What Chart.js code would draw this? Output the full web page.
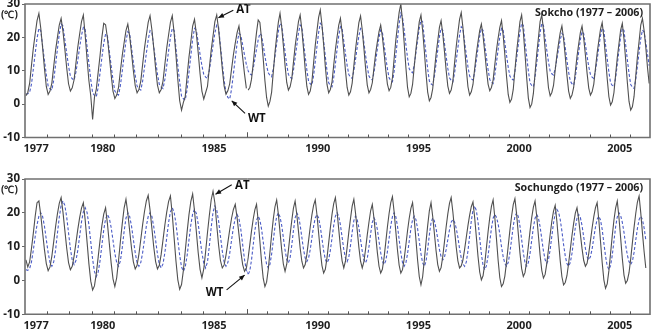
<!DOCTYPE html>
<html><head><meta charset="utf-8">
<script src="https://cdn.jsdelivr.net/npm/chart.js@4.4.0/dist/chart.umd.min.js"></script>
<style>
html,body{margin:0;padding:0;background:#fff;}
#wrap{position:relative;width:653px;height:336px;overflow:hidden;background:#fff;}
canvas{position:absolute;left:0;}
</style></head><body>
<div id="wrap">
<canvas id="topA" width="653" height="160" style="top:0px"></canvas>
<canvas id="topB" width="653" height="160" style="top:0px"></canvas>
<canvas id="botA" width="653" height="176" style="top:160px"></canvas>
<canvas id="botB" width="653" height="176" style="top:160px"></canvas>
</div>
<script>
// ---------- DATA (monthly, starting January 1977) ----------
const startYear = 1977;
const breakYear = 1987;
const endYear = 2007;
const yearLabels = [1977, 1980, 1985, 1990, 1995, 2000, 2005];
const yTicks = [-10, 0, 10, 20, 30];
const titles = ['Sokcho (1977 \u2013 2006)', 'Sochungdo (1977 \u2013 2006)'];
const seriesNames = ['AT', 'WT'];

// Sokcho air temperature (AT)
const sokchoAT = [
 2.5,3.5,6.2,11.6,16.8,21.0,25.0,27.2,22.8,17.0,10.7,5.3,
 2.9,3.9,6.3,11.3,16.1,20.0,23.7,25.7,21.8,16.5,10.9,6.1,
 3.9,4.9,7.3,12.3,17.1,21.0,24.7,26.7,20.5,13.5,7.0,2.5,
 -4.6,2.0,4.5,9.5,14.5,20.0,24.2,23.8,19.8,14.5,8.8,3.9,
 1.7,2.7,5.0,10.0,14.6,18.4,22.0,24.0,20.3,15.3,10.0,5.5,
 3.4,4.4,6.9,11.9,16.8,20.7,24.5,26.5,22.3,16.8,10.8,5.7,
 3.4,4.4,6.9,11.9,16.8,20.7,24.5,26.5,21.4,14.6,7.3,1.0,
 -1.8,0.5,2.3,8.3,14.0,18.6,23.4,25.4,21.1,15.4,9.1,3.9,
 1.5,3.4,5.3,10.8,16.1,20.4,24.7,26.7,22.4,16.7,10.6,5.4,
 3.0,4.0,6.1,10.5,14.8,18.3,21.4,23.4,19.0,14.0,9.0,4.7,
 4.2,5.0,7.4,12.0,17.0,21.5,25.2,24.5,19.5,13.5,7.0,2.0,
 -0.6,0.8,3.6,9.7,15.5,20.3,24.5,27.2,23.1,17.5,11.6,6.5,
 4.2,5.2,7.6,12.5,17.3,21.1,24.7,26.7,22.4,16.7,10.5,5.3,
 2.9,3.9,6.7,12.3,17.6,21.9,26.0,28.2,23.7,17.8,11.3,5.9,
 3.4,4.4,6.7,11.7,16.3,20.1,23.7,25.7,21.6,16.0,10.1,5.0,
 2.7,3.7,6.3,11.5,16.4,20.5,24.4,26.4,22.3,16.7,10.8,5.7,
 3.4,4.4,6.4,10.9,15.2,18.6,21.7,23.7,20.2,15.4,10.3,6.0,
 4.0,5.0,7.9,13.6,19.1,23.5,27.5,30.0,25.0,18.3,11.1,5.0,
 2.2,3.2,5.9,11.3,16.4,20.6,24.7,26.7,22.1,15.9,9.2,3.6,
 1.0,2.0,4.6,9.9,14.9,19.0,23.0,25.0,21.1,15.8,10.2,5.4,
 3.2,4.2,6.8,12.2,17.2,21.4,25.4,27.4,23.0,17.0,10.6,5.2,
 2.7,3.7,5.9,10.6,15.1,18.7,22.0,24.0,20.4,15.6,10.4,6.0,
 4.0,5.0,7.2,11.8,16.2,19.8,23.0,25.0,20.6,14.7,8.3,2.9,
 0.5,1.5,4.4,10.2,15.7,20.2,24.7,26.7,21.7,15.1,7.9,1.8,
 -1.0,0.0,3.2,9.2,15.1,19.8,24.7,26.7,22.3,16.5,10.2,4.9,
 2.5,3.5,5.6,10.2,14.6,18.2,21.4,23.4,19.5,14.3,8.6,3.9,
 1.7,2.7,5.0,9.7,14.3,18.0,21.4,23.4,19.7,14.7,9.3,4.8,
 2.7,3.7,6.0,10.7,15.3,19.0,22.4,24.4,20.0,14.0,7.6,2.2,
 -0.3,0.7,3.4,8.8,13.9,18.1,22.2,24.2,19.5,13.3,6.5,0.8,
 -1.8,-0.8,2.3,8.4,14.2,18.8,23.7,25.7,22.0,17.0,11.0,6.2
];

// Sokcho water temperature (WT)
const sokchoWT = [
 3.0,3.1,3.6,6.0,10.5,15.2,19.7,22.7,22.0,17.5,13.1,8.8,
 5.4,4.6,4.2,7.2,11.7,16.5,21.0,24.0,23.4,19.3,15.3,11.4,
 8.4,7.6,7.2,9.6,13.2,17.0,20.6,23.0,22.4,17.2,12.2,7.4,
 3.4,2.6,2.2,5.0,9.3,13.9,18.2,21.0,20.4,15.9,11.5,7.3,
 3.9,3.1,2.7,5.6,9.9,14.5,18.9,21.7,21.1,16.8,12.6,8.6,
 5.4,4.6,4.2,6.9,11.0,15.2,19.3,22.0,21.4,17.2,13.0,9.0,
 5.9,5.1,4.7,7.4,11.5,15.9,20.0,22.7,22.1,16.7,11.5,6.6,
 2.4,1.6,1.2,4.4,9.4,14.5,19.5,22.7,22.1,18.5,14.9,11.5,
 8.9,8.1,7.7,10.1,13.8,17.6,21.3,23.7,23.1,17.5,12.2,7.1,
 3.5,2.0,1.5,4.5,9.0,13.7,18.2,21.2,20.6,17.7,14.7,11.8,
 9.9,9.1,8.7,10.6,13.5,16.5,19.3,21.2,20.6,17.6,14.4,11.5,
 9.4,8.6,8.2,10.6,14.3,18.1,21.8,24.2,23.6,19.6,15.6,11.8,
 8.9,8.1,7.7,10.1,13.8,17.6,21.3,23.7,23.1,18.7,14.3,10.2,
 6.9,6.1,5.7,8.5,12.7,17.2,21.4,24.2,23.6,18.9,14.3,10.0,
 6.4,5.6,5.2,7.9,12.0,16.4,20.5,23.2,22.6,18.9,15.1,11.6,
 8.9,8.1,7.7,10.0,13.4,17.0,20.5,22.7,22.1,18.4,14.6,11.1,
 8.4,7.6,7.2,9.5,12.9,16.5,20.0,22.2,21.6,17.9,14.1,10.6,
 7.9,7.1,6.7,9.8,14.5,19.4,24.1,27.2,26.0,22.2,17.9,13.9,
 10.6,9.8,9.4,11.8,15.4,19.2,22.8,25.2,24.6,19.7,15.1,10.6,
 6.9,6.1,5.7,8.3,12.2,16.2,20.2,22.7,22.1,18.2,14.4,10.7,
 7.9,7.1,6.7,9.2,13.0,16.9,20.7,23.2,22.6,18.7,14.9,11.2,
 8.4,7.6,7.2,9.5,13.1,16.8,20.4,22.7,22.1,18.1,14.1,10.3,
 7.4,6.6,6.2,8.7,12.5,16.4,20.2,22.7,22.1,18.4,14.6,11.1,
 8.4,7.6,7.2,9.8,13.7,17.7,21.7,24.2,23.6,18.9,14.3,10.0,
 6.4,5.6,5.2,8.1,12.4,17.0,21.4,24.2,23.6,19.9,16.1,12.6,
 9.9,9.1,8.7,10.6,13.5,16.5,19.3,21.2,20.6,16.9,13.1,9.6,
 6.9,6.1,5.7,8.1,11.8,15.6,19.3,21.7,21.1,17.8,14.4,11.2,
 8.9,8.1,7.7,10.0,13.4,17.0,20.5,22.7,22.1,17.8,13.6,9.6,
 6.4,5.6,5.2,7.8,11.9,16.1,20.1,22.7,22.1,17.7,13.3,9.2,
 5.9,5.1,4.7,7.3,11.4,15.6,19.6,22.2,21.6,18.5,15.0,11.5
];

// Sochungdo air temperature (AT), monthly from Jan 1977 (series ends Oct 2006)
const sochungdoAT = [
 6.1,4.0,5.5,9.5,14.0,19.0,23.0,23.5,
 19.4,14.2,9.1,5.0,2.9,4.0,7.2,11.5,15.9,19.7,22.8,24.5,
 20.2,14.9,9.6,5.3,3.2,4.2,7.2,11.1,15.1,18.6,21.4,23.0,
 17.8,11.4,4.9,-0.2,-2.8,-1.6,2.1,6.9,11.8,16.2,19.6,21.5,
 16.8,11.0,5.2,0.5,-1.8,0.8,5.9,11.6,16.8,21.4,24.0,
 19.9,14.7,9.6,5.5,3.4,4.5,7.8,12.1,16.5,20.4,23.5,25.2,
 20.8,15.4,9.9,5.6,3.4,4.5,7.7,12.0,16.4,20.2,23.3,25.0,
 19.5,12.6,5.7,0.2,-2.6,-1.2,3.0,8.7,14.3,19.4,23.3,25.6,
 20.6,14.4,8.2,3.3,0.8,3.4,8.5,14.1,19.2,23.8,26.4,
 22.9,16.4,10.5,5.9,3.7,4.6,7.5,11.2,15.0,18.4,21.0,22.5,
 18.5,13.6,8.6,4.7,2.7,3.7,6.7,10.6,14.6,18.1,20.9,22.5,
 17.6,11.6,5.5,0.6,-1.8,-0.5,3.3,8.4,13.6,18.2,21.8,23.8,
 19.6,14.3,9.1,4.8,2.7,4.8,8.9,13.5,17.7,21.4,23.5,
 19.5,14.6,9.6,5.7,3.7,4.7,7.7,11.7,15.8,19.4,22.2,23.8,
 19.5,14.1,8.7,4.4,2.2,3.3,6.7,11.1,15.6,19.6,22.7,24.5,
 20.3,15.1,9.9,5.8,3.7,5.7,9.8,14.3,18.3,22.0,24.0,
 19.9,14.9,9.8,5.7,3.7,5.6,9.3,13.5,17.2,20.6,22.5,
 18.4,13.4,8.3,4.2,2.2,3.3,6.7,11.2,15.8,19.8,23.0,24.8,
 20.3,14.6,9.0,4.5,2.2,3.2,6.4,10.5,14.7,18.4,21.3,23.0,
 18.1,12.1,6.0,1.1,-1.3,1.1,6.0,11.3,16.2,20.6,23.0,
 18.9,13.9,8.8,4.7,2.7,3.8,7.1,11.4,15.8,19.7,22.8,24.5,
 20.3,15.1,9.9,5.8,3.7,4.3,6.0,9.2,12.7,16.2,19.3,21.8,23.2,
 18.6,12.9,7.1,2.5,0.2,1.4,4.9,9.6,14.4,18.6,21.9,23.8,
 18.7,12.3,5.9,0.8,-1.8,-1.0,1.3,5.5,10.2,14.8,19.0,22.4,24.2,
 19.6,13.9,8.1,3.5,1.2,2.3,5.7,10.1,14.6,18.6,21.7,23.5,
 18.9,13.2,7.5,3.0,0.7,1.8,5.0,9.3,13.6,17.5,20.5,22.2,
 17.5,11.6,5.8,1.1,-1.3,-0.6,1.4,5.1,9.2,13.3,16.9,19.9,21.5,
 18.0,13.7,9.4,5.9,4.2,5.1,8.0,11.7,15.5,18.9,21.5,23.0,
 17.9,11.6,5.3,0.2,-2.3,-1.0,2.9,8.0,13.2,17.8,21.4,23.5,
 18.6,12.6,6.5,1.6,-0.8,0.0,2.3,6.4,11.1,15.7,19.8,23.2,25.0,
 20.0,14.0,8.5,3.7
];

// Sochungdo water temperature (WT)
const sochungdoWT = [
 3.2,3.0,3.5,5.5,9.0,13.0,16.5,19.0,20.0,
 18.9,16.1,12.1,8.2,5.3,4.2,5.5,9.0,13.9,18.7,22.2,23.5,
 22.2,18.8,14.1,9.4,6.0,4.7,5.9,8.9,13.1,17.3,20.3,21.5,
 20.1,16.4,11.4,6.3,2.6,1.2,2.5,5.8,10.4,14.9,18.2,19.5,
 18.4,15.7,11.9,8.0,5.3,4.2,5.8,9.7,14.5,18.4,20.0,
 18.9,16.1,12.1,8.2,5.3,4.2,5.3,8.2,12.1,16.1,18.9,20.0,
 18.9,15.9,11.9,7.8,4.8,3.7,4.9,8.2,12.6,17.1,20.3,21.5,
 20.2,16.8,12.1,7.4,4.0,2.7,4.0,7.3,11.9,16.4,19.7,21.0,
 19.8,16.7,12.4,8.2,5.1,3.7,5.5,10.1,15.6,20.2,22.0,
 20.8,17.6,13.1,8.7,5.4,4.2,5.3,8.0,11.9,15.7,18.4,19.5,
 18.3,15.1,10.6,6.2,2.9,1.7,2.9,6.0,10.4,14.7,17.8,19.0,
 17.9,15.2,11.4,7.5,4.8,3.7,4.8,7.8,11.9,15.9,18.9,20.0,
 18.8,16.3,12.6,9.0,6.2,5.2,6.7,10.4,14.8,18.5,20.0,
 19.0,16.4,12.8,9.2,6.6,5.6,6.6,9.1,12.6,16.0,18.5,19.5,
 18.5,15.9,12.4,8.8,6.2,5.2,6.2,8.9,12.6,16.3,19.0,20.0,
 19.0,16.4,12.8,9.2,6.6,5.6,6.9,10.3,14.3,17.7,19.0,
 18.0,15.6,12.1,8.7,6.2,5.2,6.5,9.9,13.8,17.2,18.5,
 17.5,15.1,11.6,8.2,5.7,4.7,5.8,8.5,12.4,16.2,18.9,20.0,
 18.9,16.1,12.1,8.2,5.3,4.2,5.2,7.9,11.6,15.3,18.0,19.0,
 18.0,15.3,11.6,7.9,5.2,4.2,5.6,9.2,13.5,17.1,18.5,
 17.6,15.4,12.3,9.2,7.0,6.1,6.9,9.1,12.1,15.0,17.2,18.0,
 17.3,15.5,12.8,9.4,6.7,4.9,4.2,5.4,8.7,13.1,17.6,20.8,22.0,
 20.7,17.3,12.6,7.9,4.5,3.2,4.3,7.3,11.4,15.4,18.4,19.5,
 18.7,16.7,13.7,10.0,7.0,5.0,4.2,5.3,8.2,12.1,16.1,18.9,20.0,
 18.9,16.1,12.1,8.2,5.3,4.2,5.3,8.0,11.9,15.7,18.4,19.5,
 18.5,15.9,12.3,8.7,6.1,5.1,6.2,9.1,13.1,17.0,19.9,21.0,
 20.2,18.0,14.6,10.6,7.2,5.0,4.2,5.3,8.0,11.9,15.7,18.4,19.5,
 18.6,16.2,12.8,9.5,7.0,6.1,7.0,9.3,12.6,15.8,18.1,19.0,
 17.9,15.1,11.1,7.2,4.3,3.2,4.4,7.4,11.6,15.8,18.8,20.0,
 19.2,17.2,14.2,10.5,7.5,5.5,4.7,5.7,8.3,11.9,15.4,18.0,19.0,
 18.0,15.5,12.0
];

// ---------- STYLE / LAYOUT ----------
const W = 653, LEFT = 25, SPLIT = 247.3, RIGHT = 650, XH = 20;
const FONT = "'Open Sans', 'Liberation Sans', sans-serif";
const TXT = '#1e1e1e', FRAME = '#707070', AT_C = '#505050', WT_C = '#4a5bc6';

const toPts = vals => vals.map((v, i) => ({x: startYear + (i + 0.5) / 12, y: v}));

function arrow(ctx, x1, y1, x2, y2) {
  ctx.beginPath(); ctx.moveTo(x1, y1); ctx.lineTo(x2, y2); ctx.stroke();
  const a = Math.atan2(y2 - y1, x2 - x1), L = 6, s = 0.42;
  ctx.beginPath();
  ctx.moveTo(x2, y2);
  ctx.lineTo(x2 - L * Math.cos(a - s), y2 - L * Math.sin(a - s));
  ctx.lineTo(x2 - L * Math.cos(a + s), y2 - L * Math.sin(a + s));
  ctx.closePath(); ctx.fill();
}

const deco = {
  id: 'deco',
  afterDraw(chart) {
    const o = chart.options.plugins.deco;
    const {ctx, chartArea: a, scales: {x, y}} = chart;
    ctx.save();
    ctx.strokeStyle = FRAME; ctx.lineWidth = 1.6;
    ctx.beginPath();
    if (o.side === 'left') {
      ctx.moveTo(a.right, a.top); ctx.lineTo(a.left, a.top);
      ctx.lineTo(a.left, a.bottom); ctx.lineTo(a.right, a.bottom);
    } else {
      ctx.moveTo(a.left, a.top); ctx.lineTo(a.right, a.top);
      ctx.lineTo(a.right, a.bottom); ctx.lineTo(a.left, a.bottom);
    }
    ctx.stroke();
    ctx.lineWidth = 1; ctx.strokeStyle = '#555';
    ctx.beginPath();
    for (let yr = Math.ceil(x.min); yr <= x.max; yr++) {
      if (yr === startYear || yr === endYear) continue;
      const px = Math.round(x.getPixelForValue(yr)) + 0.5;
      const len = yr === breakYear ? 5 : 3;
      ctx.moveTo(px, a.bottom); ctx.lineTo(px, a.bottom - len);
    }
    ctx.stroke();
    ctx.fillStyle = TXT;
    if (o.title) {
      ctx.font = 'bold 10.7px ' + FONT;
      ctx.textAlign = 'right'; ctx.textBaseline = 'middle';
      ctx.fillText(o.title, a.right - 7, a.top + 8.5);
    }
    if (o.unit) {
      ctx.font = 'bold 10px ' + FONT;
      ctx.textAlign = 'left'; ctx.textBaseline = 'middle';
      ctx.fillText('(\u2103)', 1, a.top + 11);
    }
    if (o.notes) {
      ctx.strokeStyle = '#111'; ctx.fillStyle = '#111'; ctx.lineWidth = 1.1;
      o.notes.forEach(n => {
        arrow(ctx, x.getPixelForValue(n.tail[0]), y.getPixelForValue(n.tail[1]),
                   x.getPixelForValue(n.tip[0]), y.getPixelForValue(n.tip[1]));
        ctx.font = 'bold 11.5px ' + FONT;
        ctx.textAlign = n.align; ctx.textBaseline = 'middle';
        ctx.fillText(n.text, x.getPixelForValue(n.at[0]), y.getPixelForValue(n.at[1]));
      });
    }
    ctx.restore();
  }
};

function makeChart(id, panel, side) {
  const left = side === 'left';
  const xmin = left ? startYear : breakYear, xmax = left ? breakYear : endYear;
  let atPts = toPts(panel.at);
  if (panel.gapAT) atPts = atPts.filter(p => left ? p.x < breakYear : p.x > breakYear);
  const H = panel.height;
  return new Chart(document.getElementById(id), {
    type: 'line',
    data: {datasets: [
      {label: seriesNames[0], data: atPts, borderColor: AT_C, borderWidth: 1.1, pointRadius: 0, tension: 0, fill: false},
      {label: seriesNames[1], data: toPts(panel.wt), borderColor: WT_C, borderWidth: 1.1, borderDash: [3, 2], pointRadius: 0, tension: 0, fill: false}
    ]},
    options: {
      responsive: false, animation: false, events: [],
      layout: {padding: {
        left: left ? 0 : SPLIT, right: left ? W - SPLIT : W - RIGHT,
        top: panel.areaTop, bottom: H - panel.areaBottom - XH}},
      scales: {
        x: {
          type: 'linear', min: xmin, max: xmax,
          grid: {display: false, drawTicks: false}, border: {display: false},
          afterBuildTicks: s => { s.ticks = yearLabels.filter(v => v >= xmin && v < xmax).map(v => ({value: v + 0.5})); },
          afterFit: s => { s.height = XH; s.paddingLeft = 0; s.paddingRight = 0; },
          ticks: {autoSkip: false, maxRotation: 0, padding: 5, color: TXT,
                  font: {family: FONT, size: 11, weight: 'bold'},
                  callback: v => String(Math.floor(v))}
        },
        y: {
          display: left, min: -10, max: 30,
          afterBuildTicks: s => { s.ticks = yTicks.map(v => ({value: v})); },
          afterFit: s => { s.width = left ? LEFT : 0; s.paddingTop = 0; s.paddingBottom = 0; },
          grid: {drawOnChartArea: false, drawTicks: true, tickLength: 3, color: '#666'},
          border: {display: false},
          ticks: {padding: 2, color: TXT, font: {family: FONT, size: 11.5, weight: 'bold'}}
        }
      },
      plugins: {
        legend: {display: false}, tooltip: {enabled: false},
        deco: {side, title: left ? null : panel.title, unit: left, notes: left ? panel.notes : null}
      }
    },
    plugins: [deco]
  });
}

const panels = [
  {ids: ['topA', 'topB'], height: 160, areaTop: 4, areaBottom: 137.5, title: titles[0],
   at: sokchoAT, wt: sokchoWT, gapAT: true,
   notes: [
     {text: 'AT', tail: [1986.37, 28.1], tip: [1985.7, 25.9], at: [1986.5, 28.4], align: 'left'},
     {text: 'WT', tail: [1986.9, -2.8], tip: [1986.3, 1.0], at: [1987.03, -4.3], align: 'left'}
   ]},
  {ids: ['botA', 'botB'], height: 176, areaTop: 19, areaBottom: 154.3, title: titles[1],
   at: sochungdoAT, wt: sochungdoWT, gapAT: false,
   notes: [
     {text: 'AT', tail: [1986.3, 28.3], tip: [1985.57, 25.5], at: [1986.45, 27.9], align: 'left'},
     {text: 'WT', tail: [1986.07, -2.8], tip: [1986.88, 1.6], at: [1985.93, -3.6], align: 'right'}
   ]}
];

panels.forEach(p => { makeChart(p.ids[0], p, 'left'); makeChart(p.ids[1], p, 'right'); });
</script>
</body></html>
